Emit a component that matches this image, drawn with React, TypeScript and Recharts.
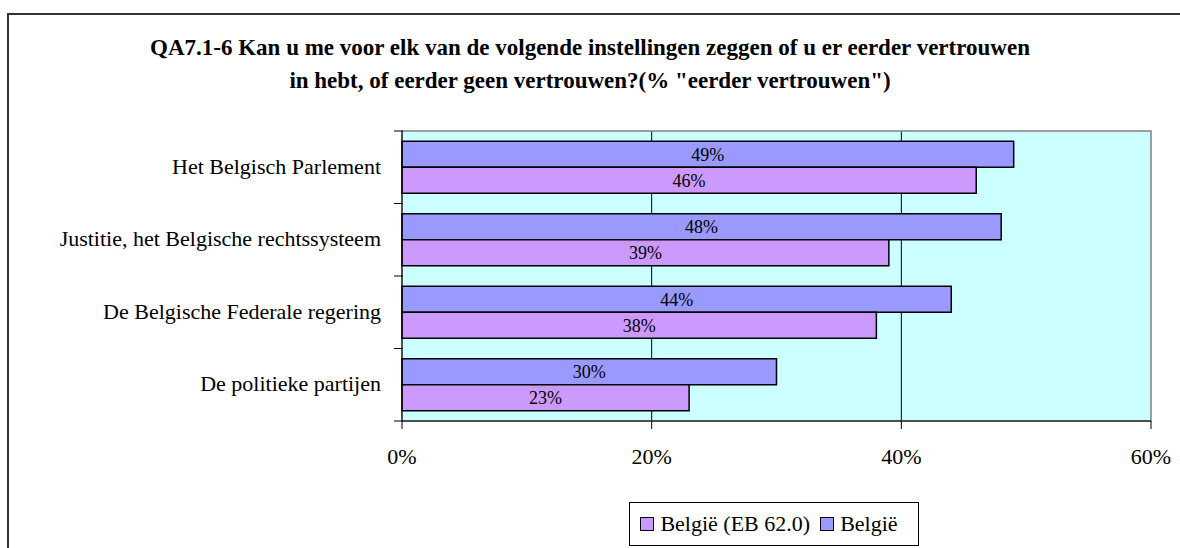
import React from "react"
import {
  BarChart,
  Bar,
  XAxis,
  YAxis,
  CartesianGrid,
  ReferenceArea,
  Legend,
  LabelList,
} from "recharts"

const categories = [
  "Het Belgisch Parlement",
  "Justitie, het Belgische rechtssysteem",
  "De Belgische Federale regering",
  "De politieke partijen",
]
const belgie = [49, 48, 44, 30]
const belgieEB = [46, 39, 38, 23]
const xTicks = [0, 20, 40, 60]

const data = categories.map((name, i) => ({
  name,
  belgie: belgie[i],
  eb: belgieEB[i],
}))

const FONT = "Liberation Serif, Tinos, Times New Roman, DejaVu Serif, serif"
const BLUE = "#9999FF"
const PURPLE = "#CC99FF"

function CategoryTick(props: any) {
  const { x, y, payload, index } = props
  const half = payload?.offset || 36.25
  const right = x + 9
  return (
    <g>
      <line x1={right - 9} x2={right} y1={y - half} y2={y - half} stroke="#000" />
      {index === categories.length - 1 && (
        <line x1={right - 9} x2={right} y1={y + half} y2={y + half} stroke="#000" />
      )}
      <text
        x={right - 22}
        y={y - 1}
        textAnchor="end"
        dominantBaseline="central"
        style={{ fontFamily: FONT, fontSize: 22 }}
        fill="#000"
      >
        {payload.value}
      </text>
    </g>
  )
}

function LegendBox() {
  const item = (color: string, label: string) => (
    <span style={{ display: "inline-flex", alignItems: "center", marginRight: 10 }}>
      <span
        style={{
          display: "inline-block",
          width: 12,
          height: 12,
          background: color,
          border: "1.5px solid #000",
          marginRight: 6,
        }}
      />
      {label}
    </span>
  )
  return (
    <div
      style={{
        border: "1px solid #000",
        height: 44,
        boxSizing: "border-box",
        display: "flex",
        alignItems: "center",
        justifyContent: "center",
        fontFamily: FONT,
        fontSize: 22,
        color: "#000",
        background: "#fff",
      }}
    >
      {item(PURPLE, "België (EB 62.0)")}
      {item(BLUE, "België")}
    </div>
  )
}

export default function App() {
  return (
    <div
      style={{
        position: "absolute",
        left: 0,
        top: 0,
        width: 1180,
        height: 548,
        overflow: "hidden",
        background: "#fff",
        fontFamily: FONT,
      }}
    >
      <div
        style={{
          position: "absolute",
          left: 7,
          top: 13,
          right: -10,
          bottom: -10,
          border: "2px solid #333",
        }}
      />
      <div
        style={{
          position: "absolute",
          left: 0,
          top: 31,
          width: 1180,
          textAlign: "center",
          fontFamily: FONT,
          fontWeight: "bold",
          fontSize: 23,
          lineHeight: "33px",
          color: "#000",
        }}
      >
        QA7.1-6 Kan u me voor elk van de volgende instellingen zeggen of u er eerder vertrouwen
        <br />
        in hebt, of eerder geen vertrouwen?(% "eerder vertrouwen")
      </div>
      <div style={{ position: "absolute", left: 0, top: 0 }}>
        <BarChart
          width={1180}
          height={548}
          data={data}
          layout="vertical"
          margin={{ top: 131, right: 29, bottom: 87, left: 0 }}
          barCategoryGap="14%"
          barGap={0}
        >
          <CartesianGrid
            horizontal={false}
            fill="#CCFFFF"
            fillOpacity={1}
            stroke="#000"
            verticalValues={[20, 40]}
          />
          <ReferenceArea x1={0} x2={60} fill="none" stroke="#808080" strokeWidth={1.5} />
          <XAxis
            type="number"
            domain={[0, 60]}
            ticks={xTicks}
            tickFormatter={(v: number) => `${v}%`}
            axisLine={{ stroke: "#000" }}
            tickLine={{ stroke: "#000" }}
            tickSize={8}
            tickMargin={19}
            height={40}
            tick={{ fill: "#000", fontSize: 22, style: { fontFamily: FONT } }}
          />
          <YAxis
            type="category"
            dataKey="name"
            width={402}
            axisLine={{ stroke: "#000" }}
            tickLine={false}
            tick={<CategoryTick />}
            interval={0}
          />
          <Legend
            layout="horizontal"
            verticalAlign="middle"
            align="center"
            content={() => <LegendBox />}
            wrapperStyle={{ left: 629, top: 502, width: 290, height: 44 }}
          />
          <Bar
            dataKey="belgie"
            name="België"
            fill={BLUE}
            stroke="#000"
            strokeWidth={1.5}
            isAnimationActive={false}
          >
            <LabelList
              dataKey="belgie"
              position="center"
              formatter={(v: any) => `${v}%`}
              style={{ fill: "#000", fontSize: 18, fontFamily: FONT }}
            />
          </Bar>
          <Bar
            dataKey="eb"
            name="België (EB 62.0)"
            fill={PURPLE}
            stroke="#000"
            strokeWidth={1.5}
            isAnimationActive={false}
          >
            <LabelList
              dataKey="eb"
              position="center"
              formatter={(v: any) => `${v}%`}
              style={{ fill: "#000", fontSize: 18, fontFamily: FONT }}
            />
          </Bar>
        </BarChart>
      </div>
    </div>
  )
}
